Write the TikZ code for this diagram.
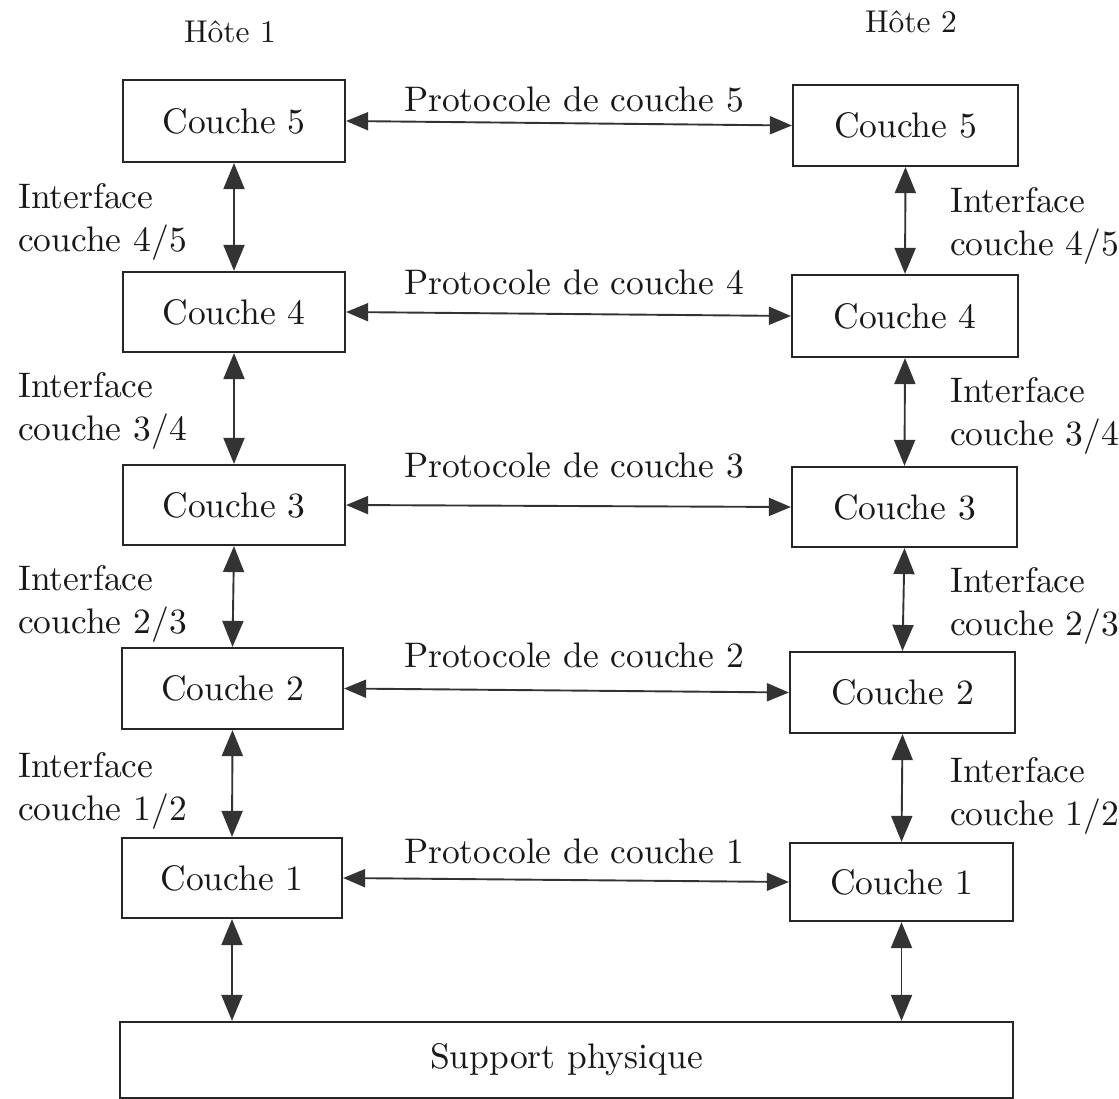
\documentclass[tikz,border=0pt]{standalone}
\usepackage{fontspec}
\setmainfont{lmroman10-regular}[Extension=.otf]
\usetikzlibrary{arrows.meta}
\begin{document}
\begin{tikzpicture}[x=1pt,y=-1pt,
  txt/.style={inner sep=0pt, text=black!90, font=\fontsize{35.5}{43}\selectfont},
  box/.style={txt, draw=black!85, line width=2.2pt},
  host/.style={inner sep=0pt, text=black!90, font=\fontsize{31.5}{36}\selectfont},
  iface/.style={txt, align=left, anchor=north west},
  harr/.style={line width=1.9pt, draw=black!80,
    {Triangle[length=22pt,width=18pt]}-{Triangle[length=22pt,width=18pt]}},
  varr/.style={line width=1.9pt, draw=black!80,
    {Triangle[length=26pt,width=21pt]}-{Triangle[length=26pt,width=21pt]}},
  ]
\path[use as bounding box, fill=white] (0,0) rectangle (1119,1099);

% hosts
\node[host, anchor=base] (h1) at (230,43) {Hôte 1};
\node[host, anchor=base] (h2) at (911,33) {Hôte 2};

% left column
\node[box, minimum width=222pt, minimum height=82pt] (l5) at (234,121) {Couche 5};
\node[box, minimum width=222pt, minimum height=80pt] (l4) at (234,312) {Couche 4};
\node[box, minimum width=222pt, minimum height=80pt] (l3) at (234,505) {Couche 3};
\node[box, minimum width=221pt, minimum height=81pt] (l2) at (232.5,688.5) {Couche 2};
\node[box, minimum width=220pt, minimum height=80pt] (l1) at (232,878) {Couche 1};

% right column
\node[box, minimum width=225pt, minimum height=81pt] (r5) at (905.5,125.5) {Couche 5};
\node[box, minimum width=226pt, minimum height=82pt] (r4) at (905,316) {Couche 4};
\node[box, minimum width=225pt, minimum height=80pt] (r3) at (904.5,507) {Couche 3};
\node[box, minimum width=225pt, minimum height=81pt] (r2) at (902.5,692.5) {Couche 2};
\node[box, minimum width=223pt, minimum height=78pt] (r1) at (901.5,882) {Couche 1};

% physical medium
\node[box, minimum width=893pt, minimum height=76pt] (sup) at (566.5,1060) {Support physique};

% protocol labels
\node[txt, anchor=base] (p5) at (574,112) {Protocole de couche 5};
\node[txt, anchor=base] (p4) at (574,295) {Protocole de couche 4};
\node[txt, anchor=base] (p3) at (574,477) {Protocole de couche 3};
\node[txt, anchor=base] (p2) at (574,667) {Protocole de couche 2};
\node[txt, anchor=base] (p1) at (574,863) {Protocole de couche 1};

% interface labels, left
\node[iface] (il45) at (18,183) {Interface\\couche 4/5};
\node[iface] (il34) at (18,372) {Interface\\couche 3/4};
\node[iface] (il23) at (18,565) {Interface\\couche 2/3};
\node[iface] (il12) at (18,752) {Interface\\couche 1/2};

% interface labels, right
\node[iface] (ir45) at (950,187) {Interface\\couche 4/5};
\node[iface] (ir34) at (950,377) {Interface\\couche 3/4};
\node[iface] (ir23) at (950,567) {Interface\\couche 2/3};
\node[iface] (ir12) at (950,757) {Interface\\couche 1/2};

% protocol arrows
\draw[harr] (l5.east) -- (r5.west);
\draw[harr] (l4.east) -- (r4.west);
\draw[harr] (l3.east) -- (r3.west);
\draw[harr] (l2.east) -- (r2.west);
\draw[harr] (l1.east) -- (r1.west);

% interface arrows, left
\draw[varr] (l5.south) -- (l4.north);
\draw[varr] (l4.south) -- (l3.north);
\draw[varr] (l3.south) -- (l2.north);
\draw[varr] (l2.south) -- (l1.north);
\draw[varr] (l1.south) -- (l1.south |- sup.north);

% interface arrows, right
\draw[varr] (r5.south) -- (r4.north);
\draw[varr] (r4.south) -- (r3.north);
\draw[varr] (r3.south) -- (r2.north);
\draw[varr] (r2.south) -- (r1.north);
\draw[varr] (r1.south) -- (r1.south |- sup.north);
\end{tikzpicture}
\end{document}
